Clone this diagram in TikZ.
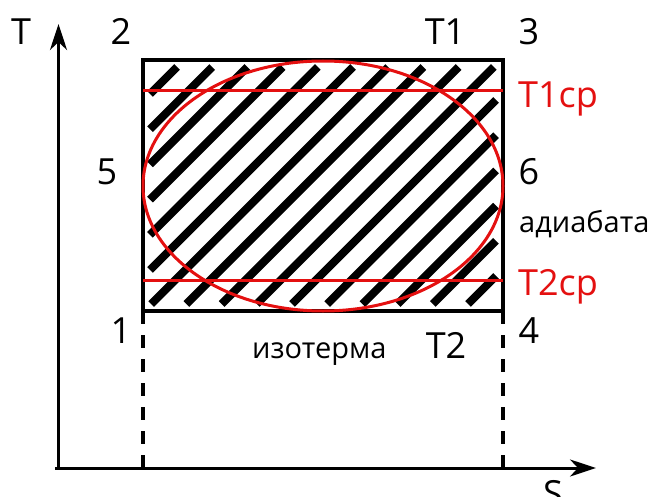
\documentclass[tikz,border=0pt]{standalone}
\usepackage{fontspec}
\setmainfont{Open Sans}
\usetikzlibrary{arrows.meta}
\definecolor{cred}{RGB}{228,16,16}
\begin{document}
\begin{tikzpicture}[x=1pt,y=-1pt,
  lab/.style={font=\fontsize{36}{36}\selectfont, anchor=base, inner sep=0pt},
  word/.style={font=\fontsize{29}{29}\selectfont, anchor=base west, inner sep=0pt},
  redlab/.style={lab, text=cred, anchor=base west},
  axis/.style={line width=3pt, -{Stealth[length=26pt,width=17pt,inset=8pt]}},
  frame/.style={line width=3.2pt},
  hatch/.style={line width=8pt},
  redline/.style={cred, line width=3pt},
  dashline/.style={line width=3.2pt, dash pattern=on 13pt off 11pt}]
\useasboundingbox (0,0) rectangle (655,497);
% coordinates
\coordinate (O) at (58.5,468);
\coordinate (Ttop) at (58.5,24);
\coordinate (Sleft) at (55,468);
\coordinate (Sright) at (596,468);
\coordinate (p1) at (143,311);
\coordinate (p2) at (143,60);
\coordinate (p3) at (503,60);
\coordinate (p4) at (503,311);
\coordinate (b1) at (143,468);
\coordinate (b4) at (503,468);
\coordinate (r1a) at (143,91);
\coordinate (r1b) at (503,91);
\coordinate (r2a) at (143,280);
\coordinate (r2b) at (503,280);
\coordinate (ec) at (323,186);
% hatching
\foreach \k in {0,...,15}{
  \pgfmathsetmacro\cc{244+35.2*\k}
  \pgfmathsetmacro\xa{max(150,\cc-304)}
  \pgfmathsetmacro\xb{min(496,\cc-67)}
  \draw[hatch] (\xa,\cc-\xa) -- (\xb,\cc-\xb);
}
% frame
\draw[frame] (p1) rectangle (p3);
% dashed
\draw[dashline] (p1) -- (b1);
\draw[dashline] (p4) -- (b4);
% axes
\draw[axis] (O) -- (Ttop);
\draw[axis] (Sleft) -- (Sright);
% red
\draw[redline] (r1a) -- (r1b);
\draw[redline] (r2a) -- (r2b);
\draw[redline] (ec) ellipse [x radius=180pt, y radius=125pt];
% labels
\node[lab] (lT) at (21,45) {T};
\node[lab] (l2) at (121,45) {2};
\node[lab] (lT1) at (445,45) {T1};
\node[lab] (l3) at (529,45) {3};
\node[redlab] (lT1cp) at (518,108) {T1ср};
\node[lab] (l5) at (107,185) {5};
\node[lab] (l6) at (529,185) {6};
\node[word] (lad) at (519,232) {адиабата};
\node[redlab] (lT2cp) at (518,295) {T2ср};
\node[lab] (l4) at (529,343) {4};
\node[lab] (l1) at (121,343) {1};
\node[word] (liz) at (252,358) {изотерма};
\node[lab] (lT2) at (446,358) {T2};
\node[lab] (lS) at (553,506) {S};
\end{tikzpicture}
\end{document}
